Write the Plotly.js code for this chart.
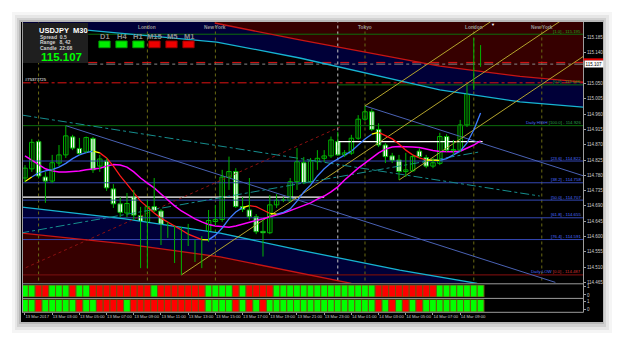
<!DOCTYPE html>
<html>
<head>
<meta charset="utf-8">
<script src="https://cdn.plot.ly/plotly-3.0.1.min.js"></script>
<style>
html,body{margin:0;padding:0;background:#ffffff;overflow:hidden;}
#chart{width:625px;height:344px;}
</style>
</head>
<body>
<div id="chart"></div>
<script>
// ================= DATA =================
const symbol = "USDJPY";
const timeframe = "M30";
const tickIndex = [0,4,8,12,16,20,24,28,32,36,40,44,48,52,56,60,64];
const tickLabels = ["13 Mar 2017","13 Mar 03:00","13 Mar 05:00","13 Mar 07:00","13 Mar 09:00","13 Mar 11:00","13 Mar 13:00","13 Mar 15:00","13 Mar 17:00","13 Mar 19:00","13 Mar 21:00","13 Mar 23:00","14 Mar 01:00","14 Mar 03:00","14 Mar 05:00","14 Mar 07:00","14 Mar 09:00"];

const openP = [114.772,114.799,114.879,114.775,114.763,114.816,114.840,114.893,114.859,114.849,
114.888,114.807,114.822,114.740,114.696,114.669,114.715,114.661,114.511,114.688,
114.675,114.616,114.619,114.549,114.622,114.581,114.537,114.590,114.644,114.650,
114.774,114.791,114.688,114.678,114.658,114.615,114.611,114.693,114.708,114.705,
114.761,114.817,114.761,114.820,114.830,114.837,114.879,114.840,114.845,114.889,
114.945,114.967,114.915,114.869,114.837,114.825,114.791,114.793,114.851,114.832,
114.807,114.815,114.894,114.852,114.854,114.928,115.037,115.121];
const highP = [114.810,114.887,114.884,114.790,114.840,114.869,114.926,114.899,114.890,114.894,
114.893,114.840,114.831,114.754,114.716,114.728,114.737,114.687,114.707,114.772,
114.681,114.643,114.631,114.628,114.637,114.590,114.601,114.678,114.693,114.796,
114.835,114.801,114.716,114.772,114.666,114.649,114.722,114.725,114.716,114.772,
114.860,114.834,114.831,114.854,114.854,114.894,114.908,114.854,114.899,114.957,
114.984,114.975,114.933,114.875,114.846,114.840,114.846,114.840,114.860,114.840,
114.831,114.905,114.901,114.884,114.943,115.046,115.184,115.163];
const lowP = [114.760,114.790,114.772,114.699,114.757,114.807,114.831,114.854,114.840,114.846,
114.787,114.790,114.734,114.684,114.657,114.657,114.649,114.507,114.507,114.672,
114.575,114.596,114.522,114.487,114.572,114.525,114.507,114.584,114.631,114.643,
114.737,114.684,114.672,114.649,114.607,114.541,114.607,114.684,114.701,114.701,
114.737,114.754,114.757,114.796,114.819,114.831,114.837,114.834,114.840,114.884,
114.940,114.910,114.863,114.816,114.816,114.766,114.775,114.790,114.831,114.801,
114.801,114.810,114.849,114.840,114.849,114.922,115.031,115.099];
const closeP = [114.801,114.877,114.778,114.763,114.817,114.840,114.896,114.860,114.844,114.891,
114.796,114.828,114.743,114.696,114.671,114.697,114.663,114.511,114.688,114.676,
114.619,114.622,114.549,114.619,114.581,114.537,114.587,114.647,114.650,114.775,
114.791,114.688,114.680,114.658,114.614,114.611,114.693,114.707,114.706,114.761,
114.820,114.758,114.822,114.830,114.837,114.884,114.840,114.846,114.889,114.945,
114.967,114.915,114.869,114.835,114.824,114.791,114.796,114.835,114.835,114.807,
114.817,114.894,114.854,114.856,114.928,115.037,115.121,115.107];

const maSlow = [114.837,114.824,114.811,114.799,114.793,114.790,114.790,114.791,114.793,114.796,
114.799,114.801,114.807,114.812,114.810,114.804,114.790,114.772,114.757,114.743,
114.725,114.707,114.690,114.675,114.663,114.652,114.643,114.635,114.631,114.628,
114.627,114.631,114.637,114.643,114.647,114.652,114.657,114.663,114.669,114.676,
114.684,114.691,114.699,114.710,114.719,114.731,114.746,114.766,114.784,114.801,
114.816,114.831,114.846,114.857,114.863,114.865,114.865,114.863,114.862,114.857,
114.853,114.850,114.849,114.849,114.851,114.859,114.869,114.881];
const maFast = [114.762,114.775,114.787,114.793,114.797,114.804,114.815,114.829,114.840,114.847,
114.851,114.846,114.831,114.807,114.778,114.754,114.728,114.704,114.687,114.669,
114.654,114.643,114.631,114.619,114.607,114.599,114.591,114.590,114.604,114.625,
114.652,114.672,114.685,114.691,114.688,114.678,114.668,114.666,114.671,114.681,
114.704,114.731,114.751,114.778,114.799,114.816,114.828,114.840,114.851,114.869,
114.887,114.901,114.906,114.896,114.887,114.872,114.854,114.840,114.831,114.825,
114.824,114.824,114.829,114.840,114.851,114.875,114.913,114.963];
// trend state of each segment ending at bar i: 1 up, 0 flat, -1 down
const maFastTrend = [0,0,1,1,1,1,1,1,1,1,1,0,-1,-1,-1,-1,-1,-1,-1,-1,-1,-1,-1,-1,-1,-1,-1,0,1,1,1,1,1,0,-1,-1,-1,0,1,1,1,1,1,1,1,1,1,1,1,1,1,1,0,-1,-1,-1,-1,-1,-1,-1,0,0,1,1,1,1,1,1];

const stripTop = [1,1,0,0,1,1,1,0,1,1, 0,0,0,0,0,0,0,0,0,1, 0,0,0,0,0,0,0,1,1,1, 1,0,1,0,0,0,0,1,1,1, 1,1,1,1,1,1,1,1,1,1, 1,1,0,0,0,0,0,0,0,0, 0,1,1,1,1,1,1,1];
const stripBottom = [1,1,0,1,1,1,1,1,0,1, 1,0,0,0,0,1,0,0,0,0, 0,0,0,0,0,0,0,1,1,1, 1,0,1,0,1,0,1,1,1,1, 1,1,1,1,1,1,1,1,1,1, 1,1,0,1,0,1,0,1,0,1, 1,1,1,1,1,1,1,1];

// regression channel borders (bar index / price)
const upperRedIdx = [27.9,40.4,52.2,61,72.8,82.5];
const upperRedPrice = [115.228,115.178,115.134,115.101,115.071,115.053];
const upperCyanIdx = [-0.6,9.3,28.2,40.4,52.2,61,72.8,82.5];
const upperCyanPrice = [115.225,115.207,115.172,115.125,115.072,115.031,114.996,114.980];
const lowerCyanIdx = [-0.6,14.7,28.7,40.4,55.1,64,66.5];
const lowerCyanPrice = [114.687,114.652,114.610,114.560,114.501,114.472,114.462];
const lowerRedIdx = [-0.6,9.1,14.7,28.7,41.9,48];
const lowerRedPrice = [114.610,114.590,114.578,114.540,114.487,114.462];

// trend lines
const trendAIdx = [6,78], trendAPrice = [114.926,114.465];
const trendBIdx = [50,82.5], trendBPrice = [114.984,114.776];
const yellow1Idx = [23,82.5], yellow1Price = [114.487,115.284];
const yellow2Idx = [50,82.5], yellow2Price = [114.984,115.420];
const yellow3Idx = [55,82.5], yellow3Price = [114.766,115.135];
const redDotIdx = [-0.7,46.3], redDotPrice = [114.501,114.922];
const teal1Idx = [-0.4,75.7], teal1Price = [114.957,114.719];
const teal2Idx = [-0.7,66.9], teal2Price = [114.610,114.849];

// levels
const prevDayHigh = 114.926, prevDayLow = 114.487;
const fibLevels = [114.822,114.758,114.707,114.655,114.591];
const fibNames = ["[23.6]","[38.2]","[50.0]","[61.8]","[76.4]"];
const dayOpenPrice = [114.716,114.879], dayOpenStart = [-0.5,46], dayOpenEnd = [44,67.3];
const weekTop = 115.195, weekBottom = 115.046, redLevel = 115.052;
const askPrice = 115.112, bidPrice = 115.107;
const priceTicks = [114.465,114.510,114.555,114.600,114.645,114.690,114.735,114.780,114.825,114.870,114.915,114.960,115.005,115.050,115.095,115.140,115.185];

const sessionIdx = [2,18,28,50,66,76];
const sessionNames = ["Tokyo","London","New York","Tokyo","London","New York"];
const daySepIdx = [46];

const tfNames = ["D1","H4","H1","M15","M5","M1"];
const tfState = [1,1,1,0,0,0];
const infoLines = ["Spread  0.5","Range   8, 42","Candle  22:08"];

// ================= BUILD =================
const L=22, R=583, T=22, B=312;
const px = x => (x-L)/(R-L);
const py = y => (B-y)/(B-T);
const xRange = [-0.44, 82.06];
const yRange = [114.4632, 115.2309];
const yTop = 115.30, yBot = 114.40;
const barIdx = openP.map((_,i)=>i);
const traces = [];
const line = (xs, ys, color, width, dash) => traces.push({x:xs, y:ys, mode:'lines', line:{color, width, dash:dash||'solid'}, hoverinfo:'skip', showlegend:false});
const poly = (xs, ys, color) => traces.push({x:xs, y:ys, mode:'lines', fill:'toself', fillcolor:color, line:{width:0}, hoverinfo:'skip', showlegend:false});

const rev = a => a.slice().reverse();
poly([...upperRedIdx, upperRedIdx[upperRedIdx.length-1], upperRedIdx[0]], [...upperRedPrice, yTop, yTop], '#360000');
poly([...upperCyanIdx, ...rev(upperRedIdx), upperRedIdx[0], upperCyanIdx[0]], [...upperCyanPrice, ...rev(upperRedPrice), yTop, yTop], '#000038');
poly([...lowerCyanIdx, lowerCyanIdx[lowerCyanIdx.length-1], lowerRedIdx[lowerRedIdx.length-1], ...rev(lowerRedIdx)], [...lowerCyanPrice, yBot, yBot, ...rev(lowerRedPrice)], '#000038');
poly([...lowerRedIdx, lowerRedIdx[lowerRedIdx.length-1], lowerRedIdx[0]], [...lowerRedPrice, yBot, yBot], '#360000');

// vertical session lines
sessionIdx.forEach(i => line([i,i],[yBot,yTop],'#6a6a14',1,'dot'));
daySepIdx.forEach(i => line([i,i],[yBot,yTop],'#c8c8c8',1,'dot'));

// horizontal levels
fibLevels.forEach(p => line([-0.5,82.5],[p,p],'#3448b4',1));
line([-0.5,82.5],[prevDayHigh,prevDayHigh],'#0c6e0c',1);
line([-0.5,82.5],[prevDayLow,prevDayLow],'#6e0c0c',1.2);
dayOpenPrice.forEach((p,k)=> line([dayOpenStart[k],dayOpenEnd[k]],[p,p],'#ffffff',1.2));
line([9.3,82.5],[weekTop,weekTop],'#0c6e0c',1);
line([46,82.5],[weekBottom,weekBottom],'#0c6e0c',1);
line([-0.5,82.5],[redLevel,redLevel],'#e01414',1,'dashdot');
line([9.3,82.5],[askPrice,askPrice],'#e01414',1,'dash');
line([9.3,82.5],[bidPrice,bidPrice],'#8a8a8a',1,'dashdot');

// channel borders
line(upperRedIdx, upperRedPrice, '#c81414', 1.3);
line(upperCyanIdx, upperCyanPrice, '#16b4d2', 1.3);
line(lowerCyanIdx, lowerCyanPrice, '#16b4d2', 1.3);
line(lowerRedIdx, lowerRedPrice, '#c81414', 1.3);

// trend lines
line(trendAIdx, trendAPrice, '#4a62b4', 1);
line(trendBIdx, trendBPrice, '#4a62b4', 1);
line(yellow1Idx, yellow1Price, '#b4a42c', 1);
line(yellow2Idx, yellow2Price, '#b4a42c', 1);
line(yellow3Idx, yellow3Price, '#b4a42c', 1);
line(redDotIdx, redDotPrice, '#8c1010', 1, 'dot');
line(teal1Idx, teal1Price, '#168e8e', 1, 'dashdot');
line(teal2Idx, teal2Price, '#168e8e', 1, 'dashdot');

// moving averages
line(barIdx, maSlow, '#ff00ff', 1.5);
const trendColor = {'1':'#3f7dff','0':'#ffff00','-1':'#ff1a1a'};
let runs = [], cur = null;
for (let i=1;i<maFast.length;i++){
  const s = maFastTrend[i];
  if(!cur || cur.s!==s){ cur = {s, xs:[i-1], ys:[maFast[i-1]]}; runs.push(cur); }
  cur.xs.push(i); cur.ys.push(maFast[i]);
}
runs.forEach(r => line(r.xs, r.ys, trendColor[String(r.s)], 1.3));

// candles: wicks then bodies
const wickX = [], wickY = [];
barIdx.forEach(i => { wickX.push(i,i,null); wickY.push(lowP[i],highP[i],null); });
traces.push({x:wickX, y:wickY, mode:'lines', line:{color:'#00b400', width:1}, hoverinfo:'skip', showlegend:false, connectgaps:false});
traces.push({type:'bar', x:barIdx, base:barIdx.map(i=>Math.min(openP[i],closeP[i])),
  y:barIdx.map(i=>Math.max(Math.abs(closeP[i]-openP[i]),0.0012)), width:0.66, xaxis:'x', yaxis:'y',
  marker:{color:barIdx.map(i=> closeP[i]>=openP[i] ? '#000000':'#ffffff'), line:{color:'#00b400', width:1}},
  hoverinfo:'skip', showlegend:false});

// indicator strips
[[stripTop,'y2'],[stripBottom,'y3']].forEach(([arr,ax]) => {
  traces.push({type:'bar', x:barIdx, y:arr.map(()=>1), base:0, width:1, xaxis:'x', yaxis:ax,
    marker:{color:arr.map(v=> v? '#00ff00':'#ff0000'), line:{color:'#6e5810', width:1}},
    hoverinfo:'skip', showlegend:false});
});

// ================= LAYOUT =================
const shapes = [];
const rectPx = (x0,y0,x1,y1,fill,layer,lineCol) => shapes.push({type:'rect', xref:'paper', yref:'paper', x0:px(x0), x1:px(x1), y0:py(y1), y1:py(y0), fillcolor:fill, line:{width:lineCol?1:0, color:lineCol||fill}, layer:layer||'above'});
const linePx = (x0,y0,x1,y1,col) => shapes.push({type:'line', xref:'paper', yref:'paper', x0:px(x0), x1:px(x1), y0:py(y0), y1:py(y1), line:{color:col, width:1}, layer:'above'});

rectPx(12,12,612,333,'rgba(0,0,0,0.04)','below');
rectPx(15,15,609,330,'rgba(0,0,0,0.06)','below');
rectPx(17,18,606,327,'rgba(0,0,0,0.09)','below');
rectPx(19,20,604,324,'#b8b8b8','below');
rectPx(21,22,603,322,'#000000','below');

// panel separators
linePx(22,283.8,583.5,283.8,'#9c9c9c');
linePx(22,298.4,583.5,298.4,'#9c9c9c');
linePx(22,312.3,583.5,312.3,'#9c9c9c');
linePx(583.5,22,583.5,312.3,'#9c9c9c');
linePx(22.5,22,22.5,312.3,'#9c9c9c');

// info box
rectPx(23,23,88,63,'#1f1f1f','above');
const tfCenters = [104.5,121.5,138.4,154.5,171.5,188.5];
tfCenters.forEach((c,k)=> rectPx(c-5.6,41,c+5.6,47.7, tfState[k]? '#00ee00':'#ee0000','above', tfState[k]? '#00a000':'#a00000'));
shapes.push({type:'rect', xref:'paper', yref:'y', x0:px(583.5), x1:px(603), y0:115.117, y1:115.124, fillcolor:'#e00000', line:{width:0}, layer:'above'});

const annotations = [];
const txt = (x,y,text,size,color,anchor,bold) => annotations.push({xref:'paper', yref:'paper', x:px(x), y:py(y), text: bold? '<b>'+text+'</b>':text, showarrow:false, xanchor:anchor||'left', yanchor:'middle', font:{size, color, family:'Liberation Sans, Arial, sans-serif'}});

txt(37,30,symbol+'  '+timeframe,7.5,'#ffffff','left',true);
infoLines.forEach((t,k)=> txt(38,36.7+k*5.8,t,5,'#cfcfcf','left',true));
txt(39,57.5,closeP[closeP.length-1].toFixed(3),11.5,'#00ff00','left',true);
tfNames.forEach((t,k)=> txt(tfCenters[k],36.5,t,7.5,'#8e8e8e','center',true));
txt(22.5,80,'#75377725',4.2,'#ffffff','left',false);
sessionIdx.forEach((i,k)=>{
  const xp = 22 + (i - xRange[0])*(R-L)/(xRange[1]-xRange[0]);
  if (xp > 95 && xp < 575) txt(xp,27.5,sessionNames[k],4.8,'#9a9a9a','center',true);
});
txt(493,24.5,'▼',4,'#ffffff','center',false);

const lvlLabel = (price,text,color) => annotations.push({xref:'x', yref:'y', x:82, y:price, text, showarrow:false, xanchor:'right', yanchor:'bottom', yshift:-1.5, font:{size:4.3, color, family:'Liberation Sans, Arial, sans-serif'}});
fibLevels.forEach((p,k)=> lvlLabel(p, fibNames[k]+' - '+p.toFixed(3), '#4a6cff'));
lvlLabel(prevDayHigh, '<span style="color:#4a6cff">Daily HIGH</span> [100.0] - '+prevDayHigh.toFixed(3), '#2aa04a');
lvlLabel(prevDayLow, '<span style="color:#4a6cff">Daily LOW</span> <span style="color:#d03030">[0.0] - '+prevDayLow.toFixed(3)+'</span>', '#4a6cff');
lvlLabel(weekTop, '[1.0] - '+weekTop.toFixed(3), '#1ea01e');
lvlLabel(weekBottom, '[0.0] - '+weekBottom.toFixed(3), '#1ea01e');

annotations.push({xref:'paper', yref:'y', x:px(584), y:bidPrice, yshift:0.5, text:bidPrice.toFixed(3), showarrow:false, xanchor:'left', yanchor:'middle', bgcolor:'#ffffff', borderpad:0.6, font:{size:4.5, color:'#000000', family:'Liberation Sans, Arial, sans-serif'}});

const shownTicks = priceTicks.filter(p => Math.abs(p-bidPrice) > 0.015);
const tickFont = {size:4.5, color:'#cdcdcd', family:'Liberation Sans, Arial, sans-serif'};

const layout = {
  width:625, height:344,
  margin:{l:L, r:625-R, t:T, b:344-B, pad:0},
  paper_bgcolor:'#ffffff', plot_bgcolor:'#000000',
  showlegend:false, barmode:'overlay',
  xaxis:{range:xRange, anchor:'y3', tickvals:tickIndex, ticktext:tickLabels, tickangle:0,
    tickfont:{size:4.2,color:'#cdcdcd',family:'Liberation Sans, Arial, sans-serif'},
    ticks:'outside', ticklen:2, tickcolor:'#9c9c9c', ticklabelposition:'outside right', showgrid:false, zeroline:false, showline:false, fixedrange:true},
  yaxis:{domain:[0.1,1], range:yRange, side:'right', tickvals:shownTicks, ticktext:shownTicks.map(p=>p.toFixed(3)), tickfont:tickFont,
    ticks:'outside', ticklen:2, tickcolor:'#9c9c9c', showgrid:false, zeroline:false, showline:false, fixedrange:true},
  yaxis2:{domain:[0.0517,0.0931], range:[0,1], side:'right', anchor:'x', tickvals:[0.17,0.86], ticktext:['0','1'], tickfont:tickFont,
    ticks:'outside', ticklen:2, tickcolor:'#9c9c9c', showgrid:false, zeroline:false, showline:false, fixedrange:true},
  yaxis3:{domain:[0.0,0.0431], range:[0,1], side:'right', anchor:'x', tickvals:[0.17,0.86], ticktext:['0','1'], tickfont:tickFont,
    ticks:'outside', ticklen:2, tickcolor:'#9c9c9c', showgrid:false, zeroline:false, showline:false, fixedrange:true},
  shapes, annotations
};

Plotly.newPlot('chart', traces, layout, {staticPlot:true, displayModeBar:false});
</script>
</body>
</html>
